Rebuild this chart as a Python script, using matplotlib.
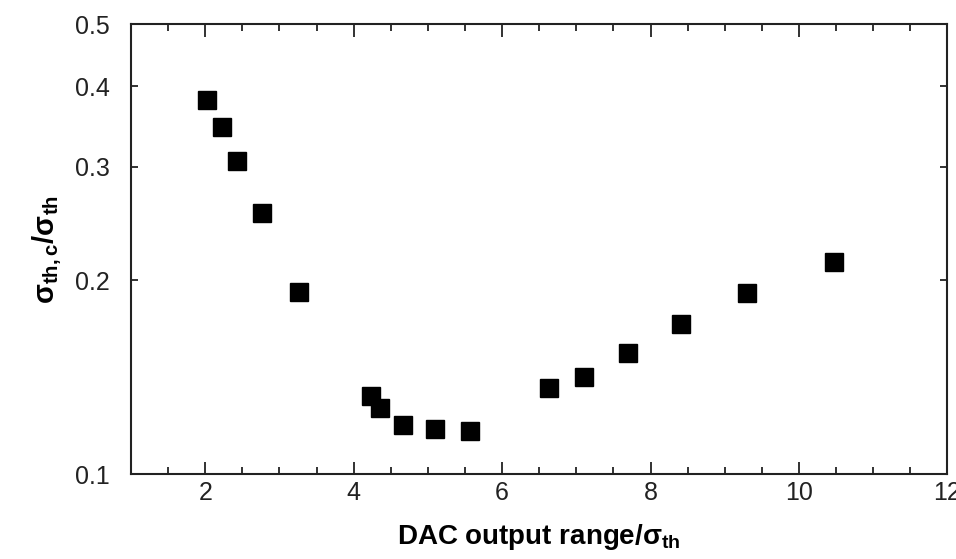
import numpy as np
import matplotlib
matplotlib.use("Agg")
import matplotlib.pyplot as plt
from matplotlib.ticker import FixedLocator, MultipleLocator, NullLocator, FixedFormatter

plt.rcParams['font.family'] = ['Liberation Sans', 'DejaVu Sans']
plt.rcParams['mathtext.fontset'] = 'custom'
plt.rcParams['mathtext.rm'] = 'Liberation Sans'
plt.rcParams['mathtext.bf'] = 'Liberation Sans:bold'
plt.rcParams['mathtext.it'] = 'Liberation Sans:bold'

# data
dac_range = [2.03, 2.22, 2.43, 2.76, 3.27, 4.23, 4.36, 4.67, 5.09, 5.57,
             6.63, 7.11, 7.70, 8.41, 9.30, 10.47]
sigma_ratio = [0.381, 0.346, 0.306, 0.254, 0.192, 0.132, 0.1265, 0.119, 0.1175, 0.1168,
               0.136, 0.1417, 0.1543, 0.1708, 0.1913, 0.2135]

y_ticks = [0.1, 0.2, 0.3, 0.4, 0.5]
y_labels = ['0.1', '0.2', '0.3', '0.4', '0.5']
x_ticks = [2, 4, 6, 8, 10, 12]


def main():
    fig = plt.figure(figsize=(9.56, 5.59), dpi=100)
    ax = fig.add_axes([0.137, 0.152, 0.854, 0.805])

    ax.plot(dac_range, sigma_ratio, ls='none', marker='s', ms=12.5,
            color='black', mec='black')

    ax.set_yscale('log')
    ax.set_xlim(1, 12)
    ax.set_ylim(0.1, 0.5)

    ax.xaxis.set_major_locator(FixedLocator(x_ticks))
    ax.xaxis.set_minor_locator(MultipleLocator(0.5))
    ax.yaxis.set_major_locator(FixedLocator(y_ticks))
    ax.yaxis.set_major_formatter(FixedFormatter(y_labels))
    ax.yaxis.set_minor_locator(NullLocator())

    ax.tick_params(which='both', direction='in', top=True, right=True,
                   width=1.3, colors='#222222', labelsize=18)
    ax.tick_params(axis='x', which='major', length=9, pad=5)
    ax.tick_params(axis='x', which='minor', length=5)
    ax.tick_params(axis='y', which='major', length=5, pad=15)

    for sp in ax.spines.values():
        sp.set_linewidth(1.5)
        sp.set_color('#222222')

    ax.set_xlabel('DAC output range/σ$_{\\mathbf{th}}$', fontsize=20,
                  fontweight='bold', labelpad=12)
    ax.set_ylabel('σ$_{\\mathbf{th,c}}$/σ$_{\\mathbf{th}}$', fontsize=21,
                  fontweight='bold', labelpad=8)

    fig.savefig('out.png', dpi=100)


if __name__ == "__main__":
    main()
